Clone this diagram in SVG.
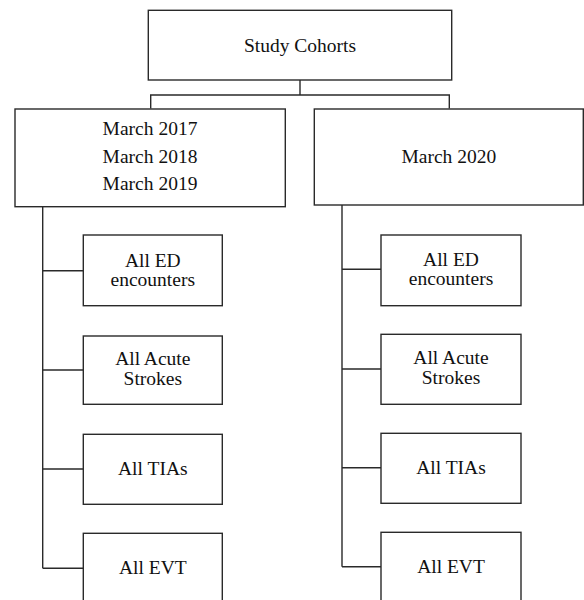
<svg xmlns="http://www.w3.org/2000/svg" width="584" height="600" viewBox="0 0 584 600">
<style>
.box{fill:#fff;stroke:#2a2a2a;stroke-width:1.4}
.ln{fill:none;stroke:#2a2a2a;stroke-width:1.4}
</style>
<rect width="584" height="600" fill="#fff"/>
<g id="connectors">
<path class="ln" d="M300,80 V95 M150.7,108.5 V95 H449.3 V108.5"/>
<path class="ln" d="M42.7,206.7 V568.3 M42.7,270.7 H83.3 M42.7,370 H83.3 M42.7,469 H83.3 M42.7,568.3 H83.3"/>
<path class="ln" d="M342,205 V566.7 M342,269.3 H381 M342,369 H381 M342,467.7 H381 M342,566.7 H381"/>
</g>
<g font-family="Liberation Serif, Times New Roman, serif" font-size="19.5" fill="#111" text-anchor="middle">
<g id="study-cohorts"><rect class="box" x="148.3" y="10.3" width="303.4" height="69.7"/><text x="300" y="51.7">Study Cohorts</text></g>
<g id="pre-2020"><rect class="box" x="15" y="109" width="270.3" height="97.7"/><text x="150" y="135">March 2017</text><text x="150" y="162.7">March 2018</text><text x="150" y="190">March 2019</text></g>
<g id="march-2020"><rect class="box" x="314.3" y="109" width="269" height="96"/><text x="448.8" y="162.7">March 2020</text></g>
<g id="l-ed"><rect class="box" x="83.3" y="235" width="139" height="70.7"/><text x="152.8" y="266.7">All ED</text><text x="152.8" y="286">encounters</text></g>
<g id="l-stroke"><rect class="box" x="83.3" y="336" width="139" height="68.3"/><text x="152.8" y="365">All Acute</text><text x="152.8" y="385">Strokes</text></g>
<g id="l-tia"><rect class="box" x="83.3" y="434.3" width="139" height="70"/><text x="152.8" y="475">All TIAs</text></g>
<g id="l-evt"><rect class="box" x="83.3" y="533.3" width="139" height="80"/><text x="152.8" y="574">All EVT</text></g>
<g id="r-ed"><rect class="box" x="381" y="235" width="140" height="70.7"/><text x="451" y="266">All ED</text><text x="451" y="285.3">encounters</text></g>
<g id="r-stroke"><rect class="box" x="381" y="334.3" width="140" height="70"/><text x="451" y="364">All Acute</text><text x="451" y="384">Strokes</text></g>
<g id="r-tia"><rect class="box" x="381" y="433.3" width="140" height="70"/><text x="451" y="474">All TIAs</text></g>
<g id="r-evt"><rect class="box" x="381" y="532.3" width="140" height="80"/><text x="451" y="573">All EVT</text></g>
</g>
</svg>
